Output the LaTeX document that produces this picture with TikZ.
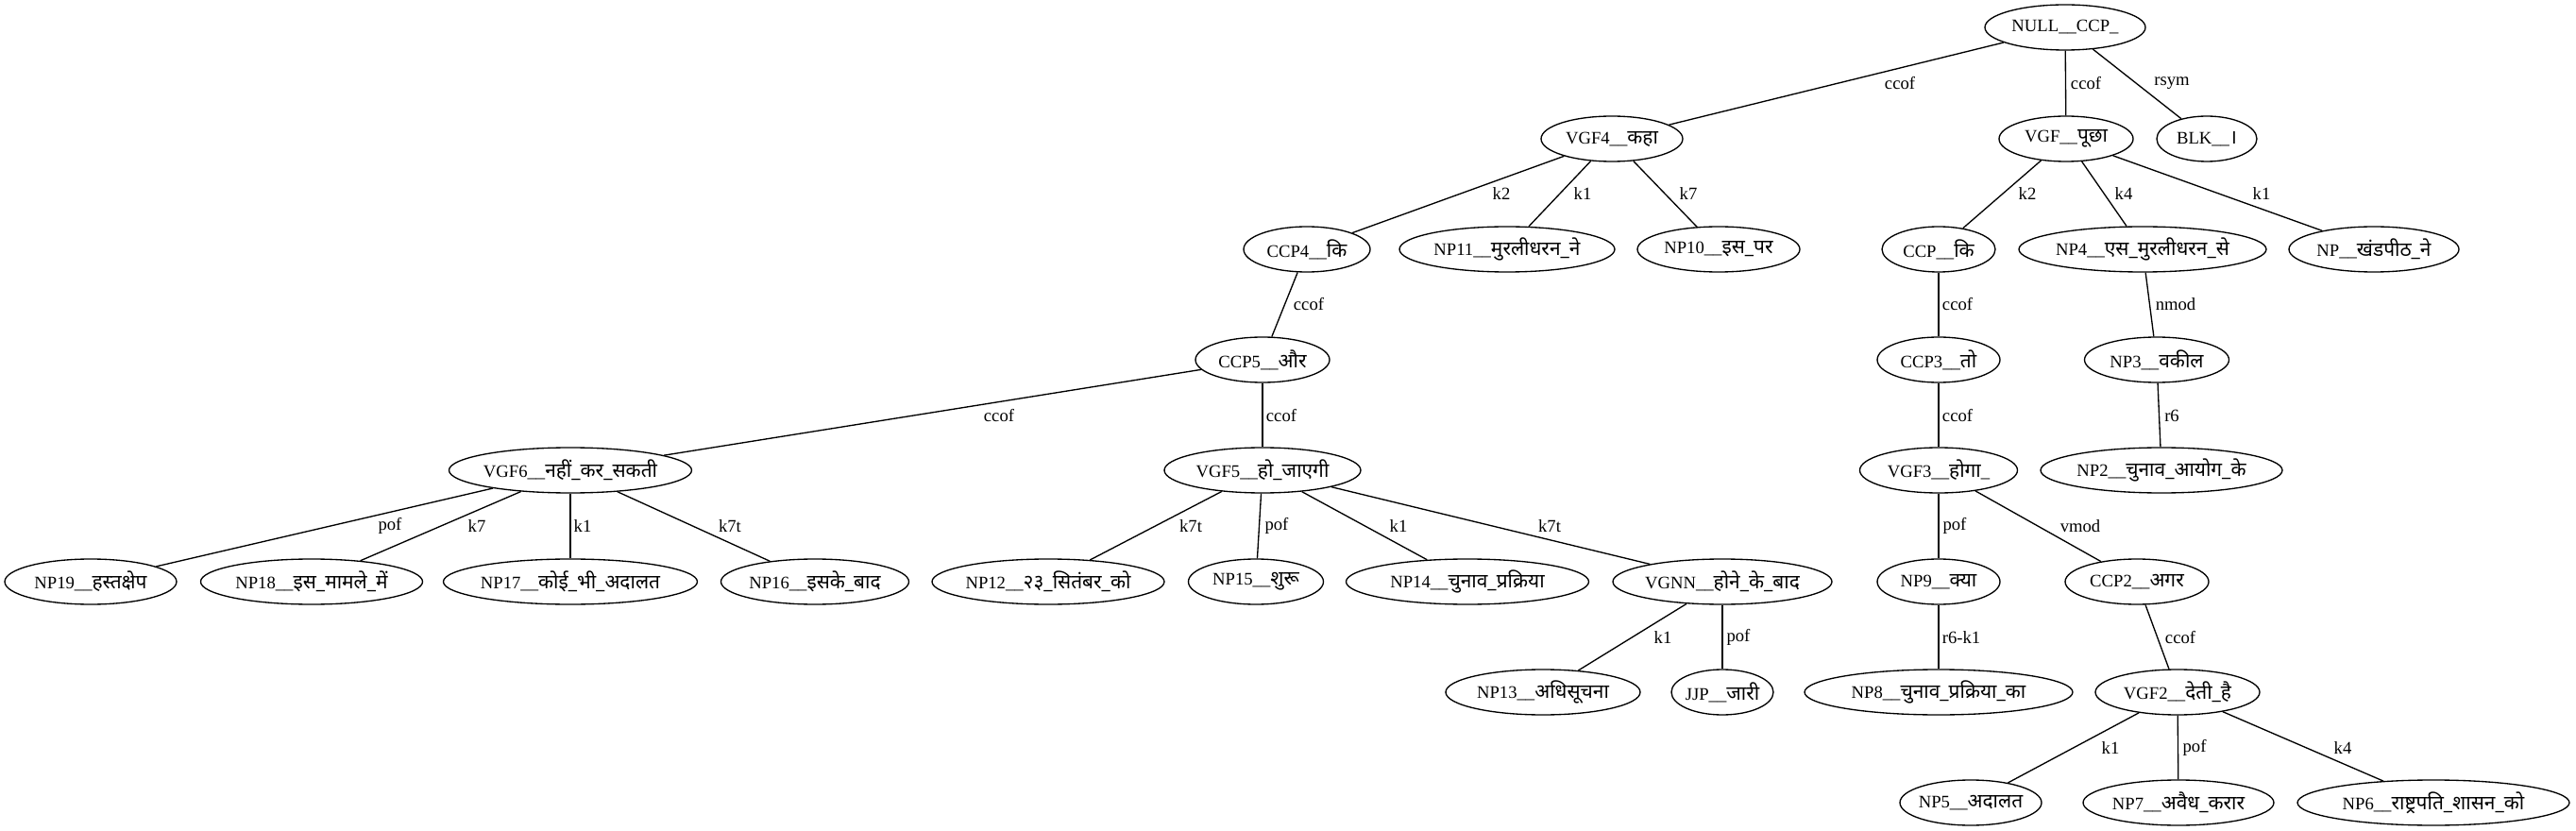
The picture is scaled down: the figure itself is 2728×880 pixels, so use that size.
\documentclass[tikz,border=0pt]{standalone}
\usepackage{fontspec}
\setmainfont{Liberation Serif}
\newfontfamily\dv[Script=Devanagari,Scale=1.12]{Noto Sans}
\usetikzlibrary{shapes.geometric}
\newcommand\hd[1]{{\dv #1}}
\newcommand\bx[1]{\makebox[0pt][c]{#1}}
\tikzset{
  nd/.style={draw, ellipse, line width=1pt, minimum width=#1*0.75pt, minimum height=36pt, inner sep=0pt, font=\fontsize{14}{16}\selectfont},
  lbl/.style={font=\fontsize{14}{16}\selectfont, inner sep=0pt},
  edge/.style={line width=1pt}
}
\begin{document}
\begin{tikzpicture}[x=0.75pt, y=-0.75pt]
\path[fill=white, use as bounding box] (0,0) rectangle (2728,880);
% row 0
\node[nd=170] (null) at (2187,29) {\bx{NULL\_\_CCP\_}};
% row 1
\node[nd=150] (vgf4) at (1707,147) {\bx{VGF4\_\_\hd{कहा}}};
\node[nd=142] (vgf) at (2188,147) {\bx{VGF\_\_\hd{पूछा}}};
\node[nd=106] (blk) at (2337,147) {\bx{BLK\_\_\hd{।}}};
% row 2
\node[nd=134] (ccp4) at (1384,264) {\bx{CCP4\_\_\hd{कि}}};
\node[nd=228] (np11) at (1596,264) {\bx{NP11\_\_\hd{मुरलीधरन\_ने}}};
\node[nd=172] (np10) at (1820,264) {\bx{NP10\_\_\hd{इस\_पर}}};
\node[nd=120] (ccp) at (2053,264) {\bx{CCP\_\_\hd{कि}}};
\node[nd=262] (np4) at (2269,264) {\bx{NP4\_\_\hd{एस\_मुरलीधरन\_से}}};
\node[nd=180] (npk) at (2514,264) {\bx{NP\_\_\hd{खंडपीठ\_ने}}};
% row 3
\node[nd=142] (ccp5) at (1337,381) {\bx{CCP5\_\_\hd{और}}};
\node[nd=130] (ccp3) at (2053,381) {\bx{CCP3\_\_\hd{तो}}};
\node[nd=153] (np3) at (2284,381) {\bx{NP3\_\_\hd{वकील}}};
% row 4
\node[nd=257] (vgf6) at (604,498) {\bx{VGF6\_\_\hd{नहीं\_कर\_सकती}}};
\node[nd=208] (vgf5) at (1337,498) {\bx{VGF5\_\_\hd{हो\_जाएगी}}};
\node[nd=167] (vgf3) at (2053,498) {\bx{VGF3\_\_\hd{होगा}\_}};
\node[nd=256] (np2) at (2289,498) {\bx{NP2\_\_\hd{चुनाव\_आयोग\_के}}};
% row 5
\node[nd=182] (np19) at (96,616) {\bx{NP19\_\_\hd{हस्तक्षेप}}};
\node[nd=235] (np18) at (330,616) {\bx{NP18\_\_\hd{इस\_मामले\_में}}};
\node[nd=269] (np17) at (604,616) {\bx{NP17\_\_\hd{कोई\_भी\_अदालत}}};
\node[nd=199] (np16) at (863,616) {\bx{NP16\_\_\hd{इसके\_बाद}}};
\node[nd=246] (np12) at (1110,616) {\bx{NP12\_\_\hd{२३\_सितंबर\_को}}};
\node[nd=143] (np15) at (1330,616) {\bx{NP15\_\_\hd{शुरू}}};
\node[nd=257] (np14) at (1554,616) {\bx{NP14\_\_\hd{चुनाव\_प्रक्रिया}}};
\node[nd=232] (vgnn) at (1824,616) {\bx{VGNN\_\_\hd{होने\_के\_बाद}}};
\node[nd=130] (np9) at (2053,616) {\bx{NP9\_\_\hd{क्या}}};
\node[nd=152] (ccp2) at (2263,616) {\bx{CCP2\_\_\hd{अगर}}};
% row 6
\node[nd=206] (np13) at (1634,733) {\bx{NP13\_\_\hd{अधिसूचना}}};
\node[nd=108] (jjp) at (1824,733) {\bx{JJP\_\_\hd{जारी}}};
\node[nd=284] (np8) at (2053,733) {\bx{NP8\_\_\hd{चुनाव\_प्रक्रिया\_का}}};
\node[nd=174] (vgf2) at (2306,733) {\bx{VGF2\_\_\hd{देती\_है}}};
% row 7
\node[nd=150] (np5) at (2087,850) {\bx{NP5\_\_\hd{अदालत}}};
\node[nd=202] (np7) at (2307,850) {\bx{NP7\_\_\hd{अवैध\_करार}}};
\node[nd=288] (np6) at (2577,850) {\bx{NP6\_\_\hd{राष्ट्रपति\_शासन\_को}}};
% edges
\draw[edge] (null) -- (vgf4);
\draw[edge] (null) -- (vgf);
\draw[edge] (null) -- (blk);
\draw[edge] (vgf4) -- (ccp4);
\draw[edge] (vgf4) -- (np11);
\draw[edge] (vgf4) -- (np10);
\draw[edge] (vgf) -- (ccp);
\draw[edge] (vgf) -- (np4);
\draw[edge] (vgf) -- (npk);
\draw[edge] (ccp4) -- (ccp5);
\draw[edge] (ccp) -- (ccp3);
\draw[edge] (np4) -- (np3);
\draw[edge] (ccp5) -- (vgf6);
\draw[edge] (ccp5) -- (vgf5);
\draw[edge] (ccp3) -- (vgf3);
\draw[edge] (np3) -- (np2);
\draw[edge] (vgf6) -- (np19);
\draw[edge] (vgf6) -- (np18);
\draw[edge] (vgf6) -- (np17);
\draw[edge] (vgf6) -- (np16);
\draw[edge] (vgf5) -- (np12);
\draw[edge] (vgf5) -- (np15);
\draw[edge] (vgf5) -- (np14);
\draw[edge] (vgf5) -- (vgnn);
\draw[edge] (vgf3) -- (np9);
\draw[edge] (vgf3) -- (ccp2);
\draw[edge] (vgnn) -- (np13);
\draw[edge] (vgnn) -- (jjp);
\draw[edge] (np9) -- (np8);
\draw[edge] (ccp2) -- (vgf2);
\draw[edge] (vgf2) -- (np5);
\draw[edge] (vgf2) -- (np7);
\draw[edge] (vgf2) -- (np6);
% edge labels
\node[lbl] at (2012,88) {ccof};
\node[lbl] at (2209,88) {ccof};
\node[lbl] at (2300,88) {rsym};
\node[lbl] at (1590,205) {k2};
\node[lbl] at (1676,205) {k1};
\node[lbl] at (1788,205) {k7};
\node[lbl] at (2147,205) {k2};
\node[lbl] at (2249,205) {k4};
\node[lbl] at (2395,205) {k1};
\node[lbl] at (1386,322) {ccof};
\node[lbl] at (2073,322) {ccof};
\node[lbl] at (2304,322) {nmod};
\node[lbl] at (1058,440) {ccof};
\node[lbl] at (1357,440) {ccof};
\node[lbl] at (2073,440) {ccof};
\node[lbl] at (2300,440) {r6};
\node[lbl] at (413,557) {pof};
\node[lbl] at (505,557) {k7};
\node[lbl] at (617,557) {k1};
\node[lbl] at (773,557) {k7t};
\node[lbl] at (1261,557) {k7t};
\node[lbl] at (1352,557) {pof};
\node[lbl] at (1481,557) {k1};
\node[lbl] at (1641,557) {k7t};
\node[lbl] at (2070,557) {pof};
\node[lbl] at (2203,557) {vmod};
\node[lbl] at (1761,675) {k1};
\node[lbl] at (1841,675) {pof};
\node[lbl] at (2077,675) {r6-k1};
\node[lbl] at (2309,675) {ccof};
\node[lbl] at (2235,792) {k1};
\node[lbl] at (2324,792) {pof};
\node[lbl] at (2481,792) {k4};
\end{tikzpicture}
\end{document}
